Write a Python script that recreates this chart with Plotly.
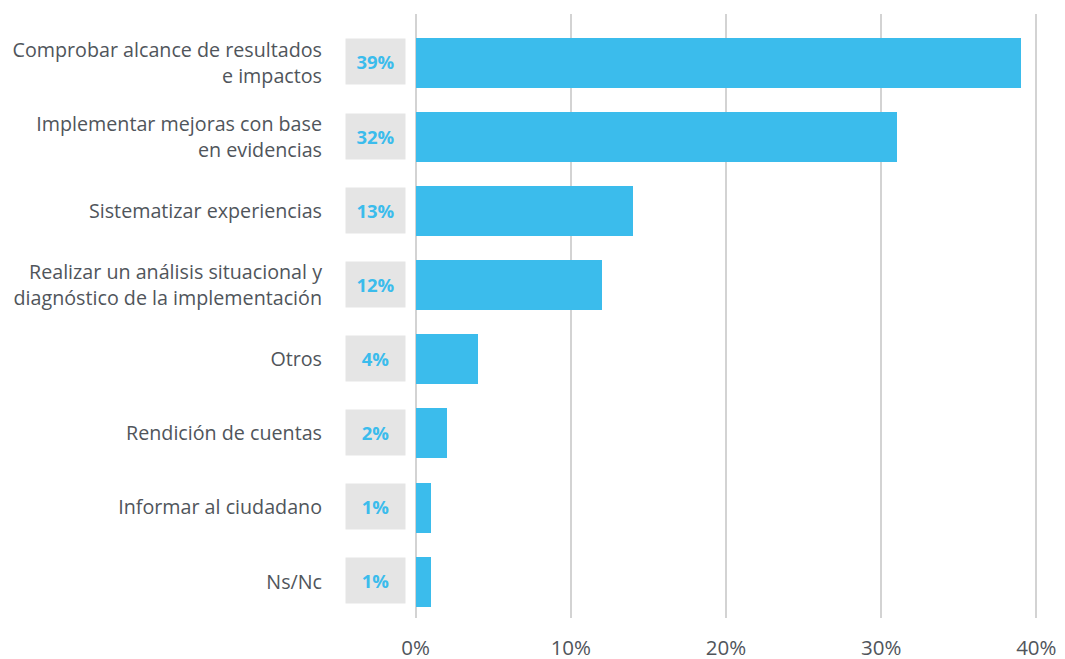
import plotly.graph_objects as go

categories = [
    "Comprobar alcance de resultados<br>e impactos",
    "Implementar mejoras con base<br>en evidencias",
    "Sistematizar experiencias",
    "Realizar un análisis situacional y<br>diagnóstico de la implementación",
    "Otros",
    "Rendición de cuentas",
    "Informar al ciudadano",
    "Ns/Nc",
]
values = [39, 31, 14, 12, 4, 2, 1, 1]
value_labels = ["39%", "32%", "13%", "12%", "4%", "2%", "1%", "1%"]
x_ticks = [0, 10, 20, 30, 40]
x_tick_labels = ["0%", "10%", "20%", "30%", "40%"]

BAR = "#3BBCEC"
BOX = "#E5E5E5"
TEXT = "#50555B"
FONT = "Open Sans"

fig = go.Figure(
    go.Bar(
        x=values,
        y=categories,
        orientation="h",
        marker=dict(color=BAR, line=dict(width=0)),
        width=0.675,
        hoverinfo="skip",
    )
)

for cat, lab in zip(categories, value_labels):
    fig.add_annotation(
        x=0, xref="paper", xanchor="right", xshift=-5,
        y=cat, yref="y", yanchor="middle", yshift=1,
        text=f"<b>{lab}</b>", showarrow=False,
        bgcolor=BOX, width=59, height=45, borderpad=0,
        font=dict(family=FONT, size=18.5, color=BAR),
    )

fig.update_layout(
    width=1065, height=659,
    margin=dict(l=411, r=24, t=14, b=41, autoexpand=False),
    paper_bgcolor="white", plot_bgcolor="white",
    showlegend=False,
    font=dict(family=FONT, size=19.7, color=TEXT),
    bargap=0,
)
fig.update_xaxes(
    range=[-0.3, 40.3],
    tickvals=x_ticks, ticktext=x_tick_labels,
    showgrid=True, gridcolor="#D3D3D3", gridwidth=2,
    zeroline=False, showline=False, automargin=False,
    ticks="", ticklabelstandoff=15,
    tickfont=dict(family=FONT, size=20.5, color=TEXT),
)
fig.update_yaxes(
    categoryorder="array", categoryarray=categories,
    range=[7.49, -0.66],
    showgrid=False, zeroline=False, showline=False, automargin=False,
    ticks="", ticklabelstandoff=88,
    tickfont=dict(family=FONT, size=19.7, color=TEXT),
)

fig.write_html("out.html")
